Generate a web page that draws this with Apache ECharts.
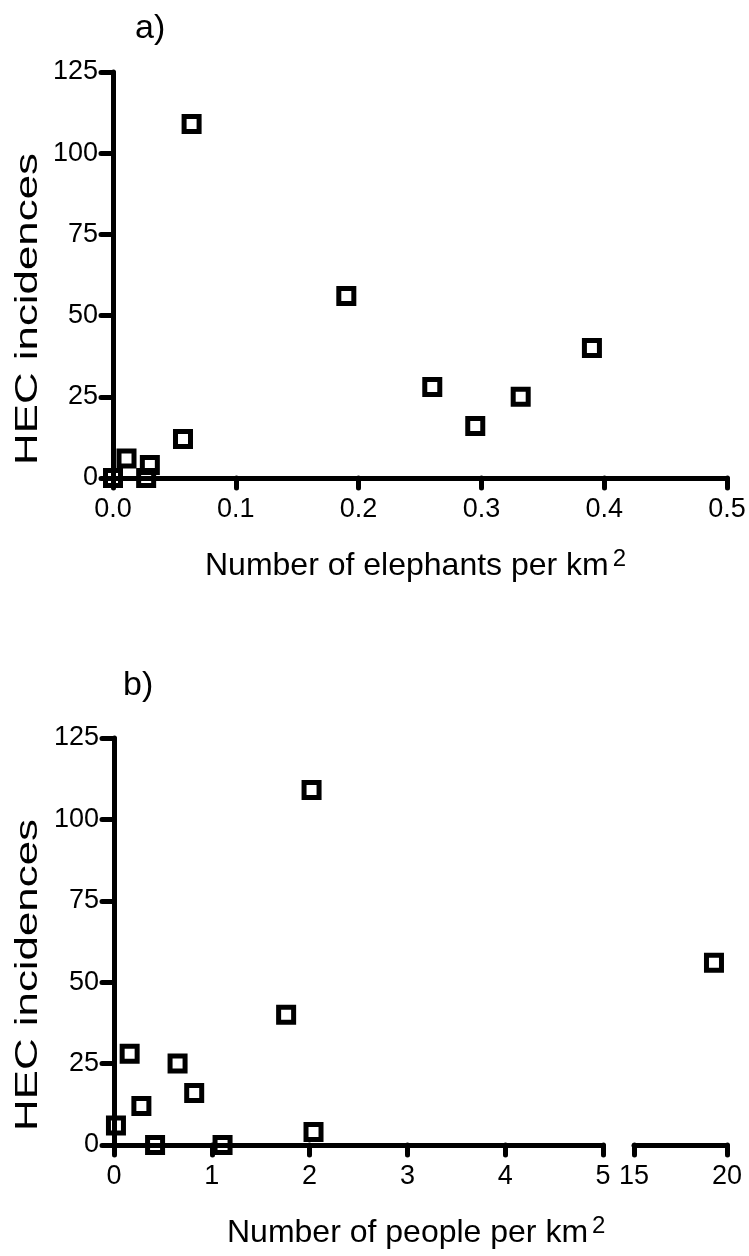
<!DOCTYPE html>
<html><head><meta charset="utf-8">
<script src="https://cdn.jsdelivr.net/npm/echarts@6/dist/echarts.min.js"></script>
<style>html,body{margin:0;padding:0;background:#fff}#c{width:749px;height:1256px}</style>
</head><body><div id="c"></div>
<script>
// Panel a: elephants per km2 vs HEC incidences
const elephantsPerKm2 = [0, 0.011, 0.027, 0.030, 0.057, 0.064, 0.19, 0.26, 0.295, 0.332, 0.39];
const hecA = [0, 6, 0, 4, 12, 109, 56, 28, 16, 25, 40];
// Panel b: people per km2 vs HEC incidences (broken axis 0-5 | 15-20)
const peopleLow = [0.02, 0.16, 0.28, 0.42, 0.65, 0.82, 1.11, 1.76, 2.02, 2.04];
const hecBLow = [6, 28, 12, 0, 25, 16, 0, 40, 109, 4];
const peopleHigh = [19.3];
const hecBHigh = [56];
const yTicks = [0, 25, 50, 75, 100, 125];
const panelLabels = ['a)', 'b)'];
const xTitles = ['Number of elephants per km', 'Number of people per km'];
const yTitle = 'HEC incidences';

const FF = '"Liberation Sans", Arial, Helvetica, sans-serif';
const ctx = document.createElement('canvas').getContext('2d');
function tw(t, size){ ctx.font = size + 'px ' + FF; return ctx.measureText(t).width; }

const pair = (xs, ys) => xs.map((x, i) => [x, ys[i]]);

function xAxisCfg(gi, min, max, interval, fmt){
  return {
    type: 'value', gridIndex: gi, min, max, interval,
    axisLine: {show: true, onZero: false, lineStyle: {color: '#000', width: 5}},
    axisTick: {show: true, length: 10, lineStyle: {color: '#000', width: 5, cap: 'round'}},
    axisLabel: {show: true, color: '#000', fontSize: 27, fontFamily: FF, margin: 18,
      formatter: fmt, showMinLabel: true, showMaxLabel: true},
    splitLine: {show: false}
  };
}
function yAxisCfg(gi, show){
  return {
    type: 'value', gridIndex: gi, min: yTicks[0], max: yTicks[yTicks.length-1], interval: 25, show,
    axisLine: {show: true, onZero: false, lineStyle: {color: '#000', width: 5}},
    axisTick: {show: true, length: 12, lineStyle: {color: '#000', width: 5, cap: 'round'}},
    axisLabel: {show: true, color: '#000', fontSize: 27, fontFamily: FF, margin: 15},
    splitLine: {show: false}
  };
}
const sym = {
  type: 'scatter', symbol: 'rect', symbolSize: 15, clip: false,
  itemStyle: {color: 'rgba(0,0,0,0)', borderColor: '#000', borderWidth: 5, opacity: 1},
  emphasis: {disabled: true}
};

const titleSize = 32, supSize = 24;
const graphic = [];
const topText = (x, y, text, size, extra) => Object.assign({type: 'text', x, y, style: {text, font: size + 'px ' + FF, fill: '#000',
  textAlign: 'left', align: 'left', textVerticalAlign: 'top', verticalAlign: 'top'}}, extra || {});
// x titles with superscript 2
[[205, 550], [227, 1217]].forEach((p, i) => {
  graphic.push(topText(p[0], p[1], xTitles[i], titleSize));
  graphic.push(topText(p[0] + tw(xTitles[i], titleSize) + 4, p[1] - 3, '2', supSize));
});
// y titles rotated (stretched along their length as in the reference)
[309, 975].forEach(cy => {
  graphic.push({type: 'text', x: 28, y: cy, rotation: Math.PI/2, scaleX: 1.37, scaleY: 1,
    style: {text: yTitle, font: titleSize + 'px ' + FF, fill: '#000', textAlign: 'center', align: 'center',
      textVerticalAlign: 'middle', verticalAlign: 'middle'}});
});
// panel labels
[[135, 29], [123, 686]].forEach((p, i) => {
  graphic.push({type: 'text', x: p[0], y: p[1], style: {text: panelLabels[i], font: '34px ' + FF, fill: '#000',
    textAlign: 'left', align: 'left', textVerticalAlign: 'middle', verticalAlign: 'middle'}});
});

const option = {
  animation: false,
  backgroundColor: '#fff',
  grid: [
    {left: 113, top: 72, width: 614, height: 406, containLabel: false, outerBoundsMode: 'none'},
    {left: 114, top: 738, width: 489, height: 407, containLabel: false, outerBoundsMode: 'none'},
    {left: 634, top: 738, width: 93, height: 407, containLabel: false, outerBoundsMode: 'none'}
  ],
  xAxis: [
    xAxisCfg(0, 0, 0.5, 0.1, v => v.toFixed(1)),
    xAxisCfg(1, 0, 5, 1, v => String(v)),
    xAxisCfg(2, 15, 20, 5, v => String(v))
  ],
  yAxis: [yAxisCfg(0, true), yAxisCfg(1, true), yAxisCfg(2, false)],
  series: [
    Object.assign({}, sym, {xAxisIndex: 0, yAxisIndex: 0, data: pair(elephantsPerKm2, hecA)}),
    Object.assign({}, sym, {xAxisIndex: 1, yAxisIndex: 1, data: pair(peopleLow, hecBLow)}),
    Object.assign({}, sym, {xAxisIndex: 2, yAxisIndex: 2, data: pair(peopleHigh, hecBHigh)})
  ],
  graphic
};
const chart = echarts.init(document.getElementById('c'), null, {renderer: 'canvas'});
chart.setOption(option);
</script>
</body></html>
